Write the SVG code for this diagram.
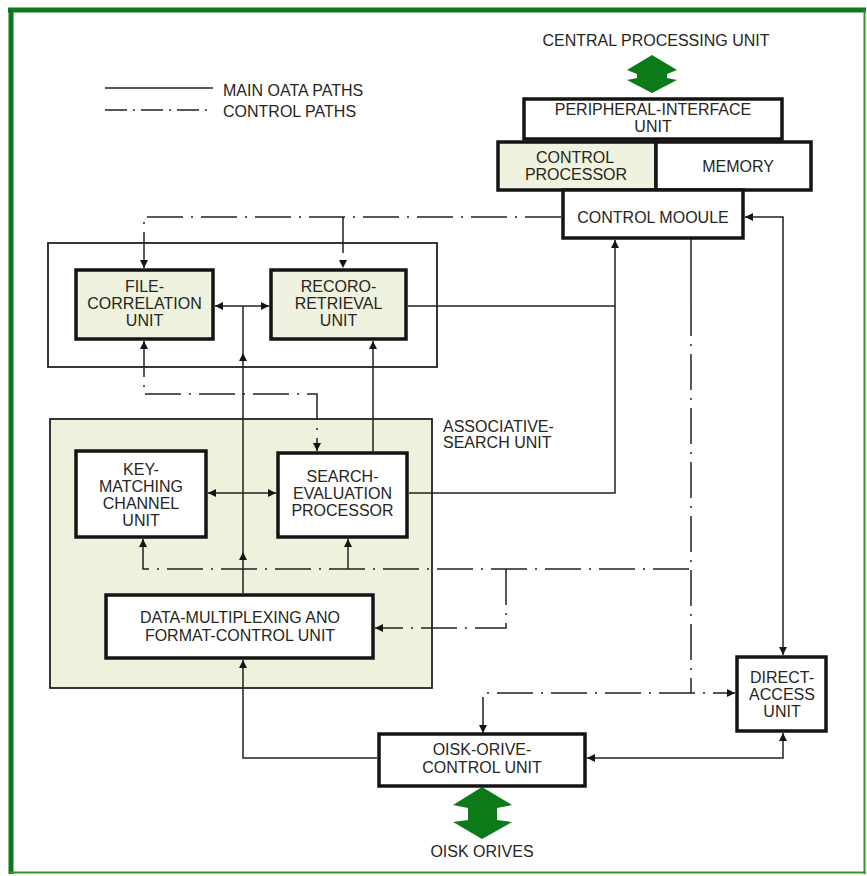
<svg xmlns="http://www.w3.org/2000/svg" width="867" height="876" viewBox="0 0 867 876">
<defs>
<style>
.t{font-family:"Liberation Sans",Arial,sans-serif;font-size:16px;fill:#26261c;text-anchor:middle}
.l{text-anchor:start}
.box{fill:#fff;stroke:#141414;stroke-width:3.5}
.gbox{fill:#eef2df;stroke:#141414;stroke-width:3.5}
.c{fill:none;stroke:#222;stroke-width:1.5}
.d{fill:none;stroke:#222;stroke-width:1.5;stroke-dasharray:36 8 2 8}
.gr{fill:#0d7a1a}
</style>
<marker id="a" viewBox="0 0 10 10" refX="10" refY="5" markerWidth="9" markerHeight="8" markerUnits="userSpaceOnUse" orient="auto-start-reverse"><path d="M0,0 L10,5 L0,10 z" fill="#141414"/></marker>
</defs>
<rect width="867" height="876" fill="#fff"/>
<g id="frame">
<line x1="8" y1="10" x2="866" y2="10" stroke="#0d7a1a" stroke-width="5"/>
<line x1="11" y1="8" x2="11" y2="874" stroke="#0d7a1a" stroke-width="5"/>
<line x1="864.5" y1="10" x2="864.5" y2="874" stroke="#2a9a2a" stroke-width="2"/>
<line x1="10" y1="872.5" x2="866" y2="872.5" stroke="#2a9a2a" stroke-width="2"/>
</g>
<g id="legend">
<line class="c" x1="105" y1="88" x2="213" y2="88"/>
<line x1="105" y1="110" x2="213" y2="110" stroke="#222" stroke-width="1.5" stroke-dasharray="22 6 2 6"/>
<text class="t l" x="223" y="96">MAIN OATA PATHS</text>
<text class="t l" x="223" y="117">CONTROL PATHS</text>
</g>
<g id="containers">
<rect x="48" y="243" width="389" height="124" fill="#fff" stroke="#222" stroke-width="1.8"/>
<rect x="50" y="419" width="382" height="269" fill="#eef1dc" stroke="#222" stroke-width="1.8"/>
<text class="t l" x="443" y="432">ASSOCIATIVE-</text>
<text class="t l" x="443" y="448">SEARCH UNIT</text>
</g>
<g id="cpu">
<text class="t" x="656" y="46">CENTRAL PROCESSING UNIT</text>
<polygon class="gr" points="652,55 677,70 667,74 667,78 677,80 652,93 627,80 637,78 637,74 627,70"/>
</g>
<g id="peripheral-interface-unit">
<rect class="box" x="524" y="99" width="258" height="40"/>
<text class="t" x="653" y="115">PERIPHERAL-INTERFACE</text>
<text class="t" x="653" y="132">UNIT</text>
</g>
<g id="control-processor">
<rect class="gbox" x="498" y="142" width="158" height="48"/>
<text class="t" x="575" y="163">CONTROL</text>
<text class="t" x="576" y="180">PROCESSOR</text>
</g>
<g id="memory">
<rect class="box" x="656" y="142" width="155" height="48"/>
<text class="t" x="738" y="172">MEMORY</text>
</g>
<g id="control-module">
<rect class="box" x="563" y="190" width="180" height="48"/>
<text class="t" x="653" y="223">CONTROL MOOULE</text>
</g>
<g id="file-correlation-unit">
<rect class="gbox" x="76" y="270" width="137" height="69"/>
<text class="t" x="144.5" y="292">FILE-</text>
<text class="t" x="144.5" y="309">CORRELATION</text>
<text class="t" x="144.5" y="326">UNIT</text>
</g>
<g id="record-retrieval-unit">
<rect class="gbox" x="271" y="270" width="135" height="69"/>
<text class="t" x="338.5" y="292">RECORO-</text>
<text class="t" x="338.5" y="309">RETRIEVAL</text>
<text class="t" x="338.5" y="326">UNIT</text>
</g>
<g id="key-matching-channel-unit">
<rect class="box" x="76" y="451" width="130" height="86"/>
<text class="t" x="141" y="475">KEY-</text>
<text class="t" x="141" y="492">MATCHING</text>
<text class="t" x="141" y="509">CHANNEL</text>
<text class="t" x="141" y="526">UNIT</text>
</g>
<g id="search-evaluation-processor">
<rect class="box" x="278" y="453" width="129" height="84"/>
<text class="t" x="342.5" y="482">SEARCH-</text>
<text class="t" x="342.5" y="499">EVALUATION</text>
<text class="t" x="342.5" y="516">PROCESSOR</text>
</g>
<g id="data-multiplexing-unit">
<rect class="box" x="106" y="595" width="267" height="63"/>
<text class="t" x="240" y="623">DATA-MULTIPLEXING ANO</text>
<text class="t" x="240" y="641">FORMAT-CONTROL UNIT</text>
</g>
<g id="direct-access-unit">
<rect class="box" x="737" y="657" width="89" height="74"/>
<text class="t" x="782" y="683">DIRECT-</text>
<text class="t" x="782" y="700">ACCESS</text>
<text class="t" x="782" y="717">UNIT</text>
</g>
<g id="disk-drive-control-unit">
<rect class="box" x="379" y="734" width="206" height="52"/>
<text class="t" x="482" y="755">OISK-ORIVE-</text>
<text class="t" x="482" y="773">CONTROL UNIT</text>
</g>
<g id="disk-drives">
<polygon class="gr" points="482,787 512,805 497,808 497,820 512,822 482,839 453,822 468,820 468,808 453,805"/>
<text class="t" x="482" y="857">OISK ORIVES</text>
</g>
<g id="connectors">
<path class="c" d="M215,306 H269" marker-start="url(#a)" marker-end="url(#a)"/>
<path class="c" d="M243,593 V552" marker-end="url(#a)"/>
<path class="c" d="M243,552 V353" marker-end="url(#a)"/>
<path class="c" d="M243,353 V306"/>
<path class="c" d="M208,493 H276" marker-start="url(#a)" marker-end="url(#a)"/>
<path class="c" d="M408,306 H615"/>
<path class="c" d="M409,493 H615 V240" marker-end="url(#a)"/>
<path class="c" d="M373,452 V341" marker-end="url(#a)"/>
<path class="c" d="M745,217 H783 V655" marker-start="url(#a)" marker-end="url(#a)"/>
<path class="c" d="M377,758 H243 V660" marker-end="url(#a)"/>
<path class="c" d="M587,758 H783 V733" marker-start="url(#a)" marker-end="url(#a)"/>
<path class="c" d="M691,239 V300"/>
<path class="d" d="M561,217 H144 V268" marker-end="url(#a)"/>
<path class="d" d="M343,217 V268" marker-end="url(#a)"/>
<path class="d" d="M144,341 V394 H317 V451" marker-start="url(#a)" marker-end="url(#a)"/>
<path class="d" d="M143,539 V569 H691" marker-start="url(#a)"/>
<path class="d" d="M348,569 V539" marker-end="url(#a)"/>
<path class="d" d="M506,569 V628 H375" marker-end="url(#a)"/>
<path class="d" d="M691,300 V693"/>
<path class="d" d="M483,733 V693 H735" marker-start="url(#a)" marker-end="url(#a)"/>
</g>
</svg>
